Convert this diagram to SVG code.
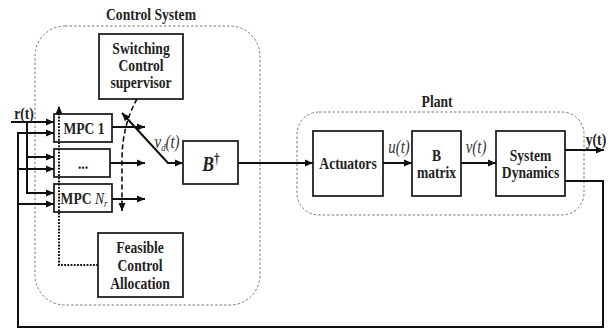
<svg xmlns="http://www.w3.org/2000/svg" width="610" height="329" viewBox="0 0 610 329">
  <style>
    .box { fill: #fff; stroke: #222; stroke-width: 1.8; }
    .frame { fill: none; stroke: #777; stroke-width: 1; stroke-dasharray: 2.5 2; }
    .wire { fill: none; stroke: #111; stroke-width: 2; }
    .lbl, .math { font-family: "Liberation Serif", "Times New Roman", serif; fill: #222; text-anchor: middle;
                  transform-box: fill-box; transform-origin: center; transform: scaleX(0.8); }
    .lbl { font-weight: bold; font-size: 17px; }
    .math { font-style: italic; font-size: 18.5px; fill: #333; }
    .big { font-size: 22px; font-style: italic; }
  </style>
  <defs>
    <marker id="arrow" markerUnits="userSpaceOnUse" markerWidth="9" markerHeight="8" refX="8" refY="4" orient="auto">
      <path d="M0,0.5 L8,4 L0,7.5 Z" fill="#111"/>
    </marker>
  </defs>

  <rect width="610" height="329" fill="#fff"/>

  <!-- Subsystem frames -->
  <g id="control-system">
    <rect class="frame" x="35" y="26" width="225" height="279" rx="30"/>
    <text class="lbl" x="151" y="20">Control System</text>
  </g>
  <g id="plant">
    <rect class="frame" x="297" y="112" width="287" height="103" rx="22"/>
    <text class="lbl" x="437" y="107">Plant</text>
  </g>

  <!-- Blocks -->
  <g id="switching-supervisor">
    <rect class="box" x="99" y="34" width="84" height="65"/>
    <text class="lbl" x="141" y="54">Switching</text>
    <text class="lbl" x="141" y="71">Control</text>
    <text class="lbl" x="141" y="88">supervisor</text>
  </g>
  <g id="mpc-1">
    <rect class="box" x="54" y="114" width="58" height="28"/>
    <text class="lbl" x="84" y="134">MPC 1</text>
  </g>
  <g id="mpc-dots">
    <rect class="box" x="54" y="149" width="56" height="28"/>
    <text class="lbl" x="83" y="169">...</text>
  </g>
  <g id="mpc-nr">
    <rect class="box" x="54" y="184" width="58" height="28"/>
    <text class="lbl" x="84" y="204">MPC <tspan font-weight="normal" font-style="italic">N</tspan><tspan font-weight="normal" font-style="italic" font-size="11" dy="3">r</tspan></text>
  </g>
  <g id="feasible-allocation">
    <rect class="box" x="98" y="233" width="85" height="64"/>
    <text class="lbl" x="140" y="253">Feasible</text>
    <text class="lbl" x="140" y="271">Control</text>
    <text class="lbl" x="140" y="289">Allocation</text>
  </g>
  <g id="b-dagger">
    <rect class="box" x="183" y="141" width="55" height="43"/>
    <text class="lbl big" x="211" y="171">B<tspan font-size="14" font-style="normal" dy="-8">†</tspan></text>
  </g>
  <g id="actuators">
    <rect class="box" x="313" y="131" width="70" height="65"/>
    <text class="lbl" x="348" y="169">Actuators</text>
  </g>
  <g id="b-matrix">
    <rect class="box" x="412" y="131" width="49" height="65"/>
    <text class="lbl" x="436.5" y="161">B</text>
    <text class="lbl" x="436.5" y="178">matrix</text>
  </g>
  <g id="system-dynamics">
    <rect class="box" x="496" y="131" width="69" height="65"/>
    <text class="lbl" x="530.5" y="161">System</text>
    <text class="lbl" x="530.5" y="178">Dynamics</text>
  </g>

  <!-- Connectors -->
  <g id="connectors">
    <!-- reference r(t) to every MPC -->
    <path class="wire" d="M11,122 H54" marker-end="url(#arrow)"/>
    <path class="wire" d="M27,122 V193 H54" marker-end="url(#arrow)"/>
    <path class="wire" d="M27,157 H54" marker-end="url(#arrow)"/>
    <!-- output feedback y(t) to every MPC -->
    <path class="wire" d="M565,181 H603 V327 H18 V133 H54" marker-end="url(#arrow)"/>
    <path class="wire" d="M18,169 H54" marker-end="url(#arrow)"/>
    <path class="wire" d="M18,204 H54" marker-end="url(#arrow)"/>
    <!-- MPC outputs -->
    <path class="wire" d="M112,127 H145" marker-end="url(#arrow)"/>
    <path class="wire" d="M110,163 H145" marker-end="url(#arrow)"/>
    <path class="wire" d="M112,199 H145" marker-end="url(#arrow)"/>
    <!-- selector switch -->
    <path class="wire" d="M168,163 L122,113" marker-end="url(#arrow)"/>
    <path class="wire" d="M167,163 H183" marker-end="url(#arrow)"/>
    <!-- supervisor command (dashed) -->
    <path fill="none" stroke="#111" stroke-width="1.6" stroke-dasharray="5 3" d="M137,99 C128,115 122,135 122,160 V211" marker-end="url(#arrow)"/>
    <!-- feasible allocation feedback (dotted) -->
    <path fill="none" stroke="#111" stroke-width="2" stroke-dasharray="1.8 1.4" d="M98,265 H59 V106" marker-end="url(#arrow)"/>
    <!-- plant chain -->
    <path class="wire" d="M238,163 H313" marker-end="url(#arrow)"/>
    <path class="wire" d="M383,163 H412" marker-end="url(#arrow)"/>
    <path class="wire" d="M461,163 H496" marker-end="url(#arrow)"/>
    <path class="wire" d="M565,150 H604" marker-end="url(#arrow)"/>
  </g>

  <!-- Signal labels -->
  <g id="signal-labels">
    <text class="lbl" x="24" y="119">r(t)</text>
    <text class="lbl" x="596" y="145">y(t)</text>
    <text class="math" x="167" y="148">v<tspan font-size="11" dy="3">d</tspan><tspan dy="-3">(t)</tspan></text>
    <text class="math" x="399" y="153">u(t)</text>
    <text class="math" x="476" y="153">v(t)</text>
  </g>
</svg>
